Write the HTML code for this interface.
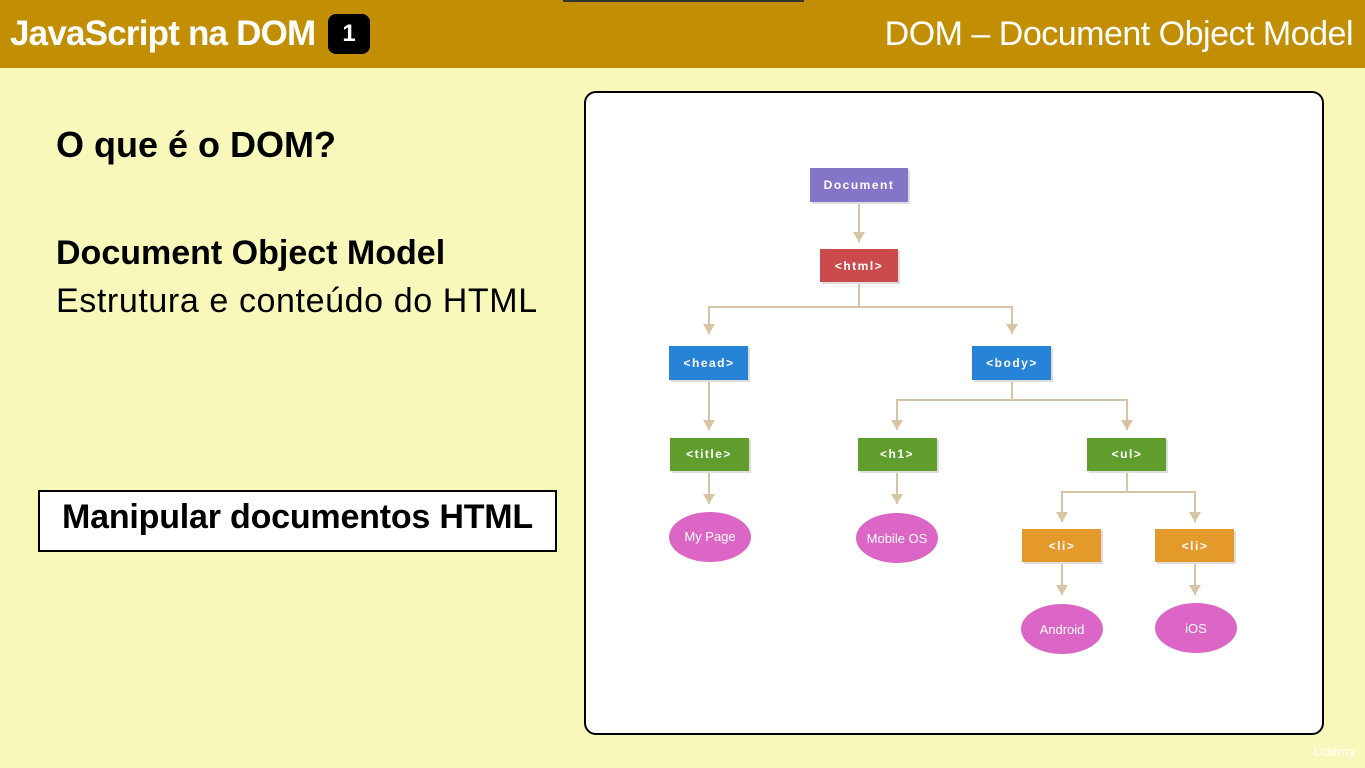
<!DOCTYPE html>
<html><head><meta charset="utf-8"><style>
body{margin:0;width:1365px;height:768px;background:#f9f8bb;position:relative;overflow:hidden;font-family:"Liberation Sans",sans-serif}
.bar{position:absolute;left:0;top:0;width:1365px;height:68px;background:#c28f04}
.t{position:absolute;white-space:nowrap}
</style></head><body>
<div class="bar"></div>
<div style="position:absolute;left:563px;top:0;width:241px;height:2px;background:#333"></div>
<div class="t" style="left:10px;top:14px;font-size:35px;color:#fff;font-weight:bold;letter-spacing:-0.8px">JavaScript na DOM</div>
<div style="position:absolute;left:328px;top:14px;width:42px;height:40px;background:#000;border-radius:8px;color:#fff;font-weight:bold;font-size:24px;text-align:center;line-height:40px">1</div>
<div class="t" style="right:12px;top:15px;font-size:34px;color:#fff;letter-spacing:-0.5px">DOM – Document Object Model</div>
<div class="t" style="left:56px;top:124px;font-size:36px;font-weight:bold;color:#000">O que é o DOM?</div>
<div class="t" style="left:56px;top:234px;font-size:34px;font-weight:bold;color:#000">Document Object Model</div>
<div class="t" style="left:56px;top:282px;font-size:34px;color:#000;letter-spacing:0.6px">Estrutura e conteúdo do HTML</div>
<div style="position:absolute;left:38px;top:490px;width:515px;height:58px;border:2px solid #000;background:#fff"></div>
<div class="t" style="left:62px;top:498px;font-size:34px;font-weight:bold;color:#000;letter-spacing:-0.2px">Manipular documentos HTML</div>
<div style="position:absolute;left:584px;top:91px;width:736px;height:640px;border:2px solid #000;border-radius:12px;background:#fff"></div>
<svg style="position:absolute;left:0;top:0" width="1365" height="768">
<defs><marker id="a" markerWidth="10" markerHeight="12" refX="10" refY="6" orient="auto" markerUnits="userSpaceOnUse"><path d="M0,0 L10,6 L0,12z" fill="#d6c4a4"/></marker></defs>
<g stroke="#d6c4a4" stroke-width="2" fill="none">
<path d="M859,202 V242" marker-end="url(#a)"/>
<path d="M859,282 V307 H709 V334" marker-end="url(#a)"/>
<path d="M859,307 H1012 V334" marker-end="url(#a)"/>
<path d="M709,380 V430" marker-end="url(#a)"/>
<path d="M1012,380 V400 H897 V430" marker-end="url(#a)"/>
<path d="M1012,400 H1127 V430" marker-end="url(#a)"/>
<path d="M709,471 V504" marker-end="url(#a)"/>
<path d="M897,471 V504" marker-end="url(#a)"/>
<path d="M1127,471 V492 H1062 V522" marker-end="url(#a)"/>
<path d="M1127,492 H1195 V522" marker-end="url(#a)"/>
<path d="M1062,562 V595" marker-end="url(#a)"/>
<path d="M1195,562 V595" marker-end="url(#a)"/>
</g>
<g font-family="Liberation Sans" font-weight="bold" font-size="12" fill="#fff" text-anchor="middle" letter-spacing="1.5">
<rect x="812" y="170" width="98" height="34" fill="#ddd"/><rect x="810" y="168" width="98" height="34" fill="#8575c8"/><text x="859" y="189">Document</text>
<rect x="822" y="251" width="78" height="33" fill="#ddd"/><rect x="820" y="249" width="78" height="33" fill="#cb4a4c"/><text x="859" y="270">&lt;html&gt;</text>
<rect x="671" y="348" width="79" height="34" fill="#ddd"/><rect x="669" y="346" width="79" height="34" fill="#2683d6"/><text x="709" y="367">&lt;head&gt;</text>
<rect x="974" y="348" width="79" height="34" fill="#ddd"/><rect x="972" y="346" width="79" height="34" fill="#2683d6"/><text x="1012" y="367">&lt;body&gt;</text>
<rect x="672" y="440" width="79" height="33" fill="#ddd"/><rect x="670" y="438" width="79" height="33" fill="#5f9e2d"/><text x="709" y="458">&lt;title&gt;</text>
<rect x="860" y="440" width="79" height="33" fill="#ddd"/><rect x="858" y="438" width="79" height="33" fill="#5f9e2d"/><text x="897" y="458">&lt;h1&gt;</text>
<rect x="1089" y="440" width="79" height="33" fill="#ddd"/><rect x="1087" y="438" width="79" height="33" fill="#5f9e2d"/><text x="1127" y="458">&lt;ul&gt;</text>
<rect x="1024" y="531" width="79" height="33" fill="#ddd"/><rect x="1022" y="529" width="79" height="33" fill="#e39a2a"/><text x="1062" y="550">&lt;li&gt;</text>
<rect x="1157" y="531" width="79" height="33" fill="#ddd"/><rect x="1155" y="529" width="79" height="33" fill="#e39a2a"/><text x="1195" y="550">&lt;li&gt;</text>
</g>
<g font-family="Liberation Sans" font-size="13" fill="#fff" text-anchor="middle">
<ellipse cx="710" cy="537" rx="41" ry="25" fill="#dc66c5"/><text x="710" y="541">My Page</text>
<ellipse cx="897" cy="538" rx="41" ry="25" fill="#dc66c5"/><text x="897" y="543">Mobile OS</text>
<ellipse cx="1062" cy="629" rx="41" ry="25" fill="#dc66c5"/><text x="1062" y="634">Android</text>
<ellipse cx="1196" cy="628" rx="41" ry="25" fill="#dc66c5"/><text x="1196" y="633">iOS</text>
</g>
</svg>
<div class="t" style="right:10px;top:744px;font-size:13px;color:#fff">Udemy</div>
</body></html>
